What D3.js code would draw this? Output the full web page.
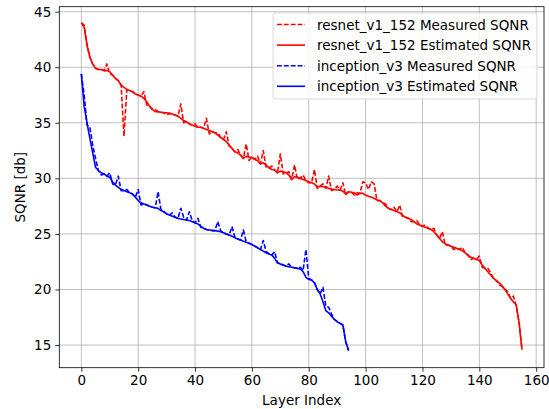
<!DOCTYPE html>
<html>
<head>
<meta charset="utf-8">
<script src="https://cdn.jsdelivr.net/npm/d3@7"></script>
<style>
  body { margin: 0; background: #fff; }
  text { font-family: "DejaVu Sans", sans-serif; fill: #000; }
  .grid line { stroke: #b0b0b0; stroke-width: 0.8; }
  .axis path, .axis line { stroke: #000; stroke-width: 0.8; }
  .axis text { font-size: 13.5px; }
</style>
</head>
<body>
<div id="chart"></div>
<script>
// layer indices are just 0..n-1
var resnetEstimated = [44.0, 43.6, 42.0, 40.9, 40.3, 39.9, 39.8, 39.8, 39.7, 39.7,
  39.6, 39.3, 39.0, 38.8, 38.4, 38.2, 38.0, 37.9, 37.8, 37.6,
  37.5, 37.4, 37.2, 36.9, 36.5, 36.2, 36.0, 36.0, 35.95, 35.9,
  35.9, 35.85, 35.8, 35.7, 35.6, 35.4, 35.2, 35.1, 34.9, 34.8,
  34.7, 34.6, 34.6, 34.5, 34.4, 34.3, 34.2, 34.1, 33.9, 33.7,
  33.5, 33.3, 33.0, 32.7, 32.4, 32.3, 32.1, 31.8, 32.0, 31.9,
  31.9, 31.7, 31.6, 31.3, 31.4, 31.2, 30.95, 30.8, 30.75, 30.5,
  30.65, 30.6, 30.5, 30.3, 29.9, 30.15, 30.1, 30.0, 29.9, 29.8,
  29.7, 29.6, 29.5, 29.2, 29.3, 29.25, 29.2, 29.1, 29.05, 29.0,
  28.95, 28.95, 28.85, 28.6, 28.8, 28.75, 28.7, 28.5, 28.65, 28.65,
  28.5, 28.4, 28.3, 28.2, 28.05, 28.0, 27.8, 27.5, 27.3, 27.2,
  27.1, 27.0, 26.9, 26.7, 26.5, 26.4, 26.3, 26.1, 25.9, 25.8,
  25.7, 25.6, 25.5, 25.4, 25.2, 24.9, 24.6, 24.3, 24.1, 24.0,
  23.9, 23.8, 23.7, 23.6, 23.5, 23.3, 23.1, 22.9, 22.8, 22.7,
  22.6, 22.2, 21.9, 21.6, 21.3, 21.0, 20.8, 20.6, 20.3, 20.0,
  19.6, 19.2, 18.9, 18.6, 17.0, 14.6];

var resnetMeasured = [44.0, 43.8, 42.0, 40.9, 40.3, 39.9, 39.8, 39.8, 39.7, 40.3,
  39.4, 39.3, 39.0, 38.8, 38.4, 33.8, 38.0, 37.9, 37.8, 37.6,
  37.5, 37.4, 37.8, 36.6, 36.5, 36.2, 36.2, 36.0, 35.95, 35.9,
  35.7, 35.85, 35.8, 35.7, 35.6, 36.7, 35.0, 35.1, 34.9, 34.8,
  34.9, 34.6, 34.6, 34.5, 35.4, 34.0, 34.2, 34.1, 34.1, 33.7,
  33.5, 34.2, 32.9, 32.7, 32.4, 32.6, 32.1, 31.8, 33.1, 31.6,
  31.9, 31.7, 32.0, 31.3, 32.5, 31.0, 30.95, 31.1, 30.75, 30.5,
  32.2, 30.4, 30.5, 30.6, 29.9, 31.2, 29.9, 30.0, 30.3, 29.8,
  29.6, 29.6, 30.8, 29.1, 29.3, 29.5, 29.1, 30.2, 28.9, 29.0,
  29.3, 28.95, 29.6, 28.5, 28.8, 28.75, 28.5, 28.7, 28.65, 29.7,
  29.6, 29.0, 29.7, 29.5, 28.0, 28.0, 27.8, 27.7, 27.3, 27.2,
  27.4, 27.0, 27.6, 26.5, 26.5, 26.4, 26.1, 26.1, 26.2, 25.8,
  25.7, 25.8, 25.5, 25.4, 25.5, 24.9, 24.6, 25.2, 24.0, 24.0,
  23.9, 23.6, 23.7, 23.6, 23.8, 23.3, 23.1, 22.7, 22.8, 22.7,
  23.0, 22.0, 21.9, 21.9, 21.5, 21.0, 20.8, 20.4, 20.3, 20.0,
  19.8, 19.2, 19.4, 18.5, 17.0, 14.6];

var inceptionEstimated = [39.4, 36.5, 35.0, 33.6, 32.3, 31.0, 30.7, 30.5, 30.4, 30.2,
  30.1, 29.7, 29.4, 29.2, 29.0, 28.9, 28.8, 28.7, 28.6, 28.3,
  28.0, 27.8, 27.7, 27.6, 27.5, 27.4, 27.35, 27.3, 27.1, 27.0,
  26.8, 26.7, 26.6, 26.5, 26.4, 26.35, 26.3, 26.25, 26.2, 26.1,
  26.0, 25.9, 25.7, 25.5, 25.4, 25.35, 25.3, 25.3, 25.25, 25.2,
  25.1, 25.0, 24.9, 24.8, 24.65, 24.55, 24.45, 24.35, 24.25, 24.15,
  24.05, 23.9, 23.75, 23.6, 23.45, 23.3, 23.2, 23.1, 22.8, 22.4,
  22.3, 22.2, 22.1, 22.05, 22.0, 21.95, 21.9, 21.85, 21.6, 21.1,
  20.9, 20.85, 20.6, 20.0, 19.6, 18.9, 18.1, 17.9, 17.6, 17.3,
  17.1, 16.95, 16.8, 15.3, 14.5];

var inceptionMeasured = [39.4, 37.5, 34.8, 34.6, 33.0, 31.8, 30.7, 30.3, 30.4, 30.2,
  30.5, 29.5, 29.4, 30.2, 28.9, 28.9, 29.0, 28.7, 28.6, 28.3,
  29.0, 27.6, 27.7, 27.6, 27.5, 27.4, 27.35, 28.8, 27.2, 27.0,
  26.8, 26.7, 26.9, 26.5, 26.4, 27.3, 26.5, 26.25, 27.0, 26.2,
  26.0, 26.4, 25.6, 25.5, 25.4, 25.35, 25.3, 25.3, 26.1, 25.3,
  25.1, 25.0, 24.9, 25.65, 24.7, 24.55, 24.45, 25.35, 24.3, 24.15,
  24.05, 23.9, 23.75, 23.6, 24.4, 23.4, 23.2, 23.1, 23.4, 22.4,
  22.3, 22.2, 22.1, 22.3, 22.0, 21.95, 21.9, 22.0, 21.7, 23.6,
  21.0, 20.85, 20.6, 20.0, 19.6, 20.2, 18.5, 18.4, 17.8, 17.3,
  17.1, 16.95, 16.8, 15.3, 14.5];

var xTicks = [0, 20, 40, 60, 80, 100, 120, 140, 160];
var yTicks = [15, 20, 25, 30, 35, 40, 45];

var seriesNames = ["resnet_v1_152 Measured SQNR", "resnet_v1_152 Estimated SQNR",
  "inception_v3 Measured SQNR", "inception_v3 Estimated SQNR"];
var seriesColors = ["#ff0000", "#ff0000", "#0000ff", "#0000ff"];
var seriesDashed = [true, false, true, false];

let series = [resnetMeasured, resnetEstimated, inceptionMeasured, inceptionEstimated];

let width = 549, height = 409;
let plotLeft = 59.3, plotRight = 544, plotTop = 6.7, plotBottom = 367.7;

let svg = d3.select('#chart').append('svg')
  .attr('width', width)
  .attr('height', height);

let xScale = d3.scaleLinear().domain([-7.75, 162.75]).range([plotLeft, plotRight]);
let yScale = d3.scaleLinear().domain([12.96, 45.45]).range([plotBottom, plotTop]);

// grid
let grid = svg.append('g').attr('class', 'grid');
grid.selectAll('.gx').data(xTicks).enter().append('line')
  .attr('x1', (d)=> xScale(d)).attr('x2', (d)=> xScale(d))
  .attr('y1', plotTop).attr('y2', plotBottom);
grid.selectAll('.gy').data(yTicks).enter().append('line')
  .attr('x1', plotLeft).attr('x2', plotRight)
  .attr('y1', (d)=> yScale(d)).attr('y2', (d)=> yScale(d));

// lines
let line = d3.line()
  .x((d, i)=> xScale(i))
  .y((d)=> yScale(d));

svg.append('clipPath').attr('id', 'clip').append('rect')
  .attr('x', plotLeft).attr('y', plotTop)
  .attr('width', plotRight - plotLeft).attr('height', plotBottom - plotTop);

svg.append('g').attr('clip-path', 'url(#clip)')
  .selectAll('path').data(series).enter().append('path')
  .attr('d', (d)=> line(d))
  .attr('fill', 'none')
  .attr('stroke', (d, i)=> seriesColors[i])
  .attr('stroke-width', 1.6)
  .attr('stroke-linejoin', 'round')
  .attr('stroke-dasharray', (d, i)=> seriesDashed[i] ? '4.8,2.1' : null);

// axes
let xAxis = d3.axisBottom(xScale).tickValues(xTicks).tickSize(4).tickPadding(4);
let yAxis = d3.axisLeft(yScale).tickValues(yTicks).tickSize(4).tickPadding(4);
svg.append('g').attr('class', 'axis')
  .attr('transform', `translate(0, ${plotBottom})`)
  .call(xAxis)
  .call((g)=> g.select('.domain').remove());
svg.append('g').attr('class', 'axis')
  .attr('transform', `translate(${plotLeft}, 0)`)
  .call(yAxis)
  .call((g)=> g.select('.domain').remove());

// frame
svg.append('rect')
  .attr('x', plotLeft).attr('y', plotTop)
  .attr('width', plotRight - plotLeft).attr('height', plotBottom - plotTop)
  .attr('fill', 'none').attr('stroke', '#000').attr('stroke-width', 0.8);

// axis labels
svg.append('text')
  .attr('x', (plotLeft + plotRight) / 2).attr('y', 405)
  .attr('text-anchor', 'middle')
  .style('font-size', '13.5px')
  .text('Layer Index');
svg.append('text')
  .attr('transform', `translate(25, ${(plotTop + plotBottom) / 2}) rotate(-90)`)
  .attr('text-anchor', 'middle')
  .style('font-size', '13.5px')
  .text('SQNR [db]');

// legend
let legend = svg.append('g').attr('transform', 'translate(273, 13)');
legend.append('rect')
  .attr('width', 264).attr('height', 86)
  .attr('rx', 2.5)
  .attr('fill', 'rgba(255,255,255,0.8)')
  .attr('stroke', '#d0d0d0').attr('stroke-width', 0.8);

let rows = legend.selectAll('.row').data(seriesNames).enter().append('g')
  .attr('transform', (d, i)=> `translate(0, ${11.5 + i * 20.6})`);
rows.append('line')
  .attr('x1', 4).attr('x2', 32)
  .attr('stroke', (d, i)=> seriesColors[i])
  .attr('stroke-width', 1.6)
  .attr('stroke-dasharray', (d, i)=> seriesDashed[i] ? '4.8,2.1' : null);
rows.append('text')
  .attr('x', 44).attr('y', 5)
  .style('font-size', '13.5px')
  .text((d)=> d);
</script>
</body>
</html>
